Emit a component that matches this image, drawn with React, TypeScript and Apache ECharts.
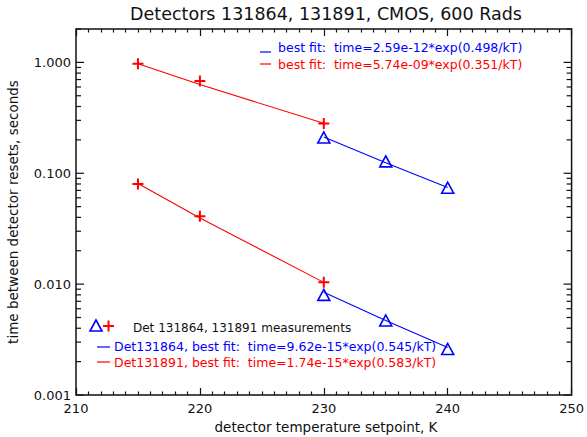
import React, { useEffect, useRef } from "react";
import * as echarts from "echarts";

// Detector temperature setpoints, K
const temps864 = [230, 235, 240];
const temps891 = [215, 220, 230];

// Measured time between detector resets, seconds (two clusters per detector)
const upperMeas864 = [0.21, 0.128, 0.074];
const upperMeas891 = [0.97, 0.68, 0.281];
const lowerMeas864 = [0.008, 0.0047, 0.0026];
const lowerMeas891 = [0.08, 0.041, 0.0104];

// Best-fit curves evaluated at the setpoints
const upperFit864 = [0.2118, 0.1241, 0.0743];
const upperFit891 = [0.97, 0.631, 0.282];
const lowerFit864 = [0.00843, 0.0047, 0.00268];
const lowerFit891 = [0.0807, 0.0395, 0.01037];

// Axis ranges and labels
const xMin = 210;
const xMax = 250;
const yMin = 0.001;
const yMax = 2;

const titleText = "Detectors 131864, 131891, CMOS, 600 Rads";
const xTitle = "detector temperature setpoint, K";
const yTitle = "time between detector resets, seconds";
const upperFitLabels = [
  "best fit:  time=2.59e-12*exp(0.498/kT)",
  "best fit:  time=5.74e-09*exp(0.351/kT)",
];
const measLabel = "Det 131864, 131891 measurements";
const lowerFitLabels = [
  "Det131864, best fit:  time=9.62e-15*exp(0.545/kT)",
  "Det131891, best fit:  time=1.74e-15*exp(0.583/kT)",
];

const BLUE = "#0000ff";
const RED = "#ff0000";
const INK = "#111111";
const FONT = "DejaVu Sans";

const zip = (xs: number[], ys: number[]) => xs.map((x, i) => [x, ys[i]]);

// log-axis tick positions: 1..9 x 10^k inside the range
const yTickMarks: number[][] = [];
for (let e = -3; e <= 0; e++) {
  for (let m = 1; m <= 9; m++) {
    const v = m * Math.pow(10, e);
    if (v >= yMin && v <= yMax) yTickMarks.push([xMin, v, m === 1 ? 1 : 0]);
  }
}

const plusSymbol = "path://M0,5L10,5M5,0L5,10";

export default function App() {
  const ref = useRef<HTMLDivElement>(null);

  useEffect(() => {
    if (!ref.current) return;
    const chart = echarts.init(ref.current, null, { renderer: "svg" });

    const left = 76;
    const right = 12;
    const top = 29;
    const bottom = 42;

    const xTickCommon = {
      min: xMin,
      max: xMax,
      interval: 10,
      axisLine: { show: false },
      splitLine: { show: false },
      axisTick: { show: true, inside: true, length: 7, lineStyle: { color: INK, width: 1.2 } },
      minorTick: { show: true, splitNumber: 10, length: 3.5, lineStyle: { color: INK, width: 1.2 } },
      minorSplitLine: { show: false },
    };

    const markerSeries = (data: number[][], color: string, tri: boolean) => ({
      type: "scatter",
      data,
      symbol: tri ? "triangle" : plusSymbol,
      symbolSize: tri ? [12, 11] : [11, 11],
      itemStyle: {
        color: "rgba(0,0,0,0)",
        borderColor: color,
        borderWidth: tri ? 1.6 : 2,
        opacity: 1,
      },
      silent: true,
      z: 4,
    });

    const fitSeries = (data: number[][], color: string) => ({
      type: "line",
      data,
      showSymbol: false,
      symbol: "none",
      lineStyle: { color, width: 1.1 },
      silent: true,
      z: 3,
    });

    const legendLine = (x1: number, x2: number, y: number, color: string) => ({
      type: "line",
      shape: { x1, y1: y, x2, y2: y },
      style: { stroke: color, lineWidth: 1.2 },
    });

    const legendText = (x: number, y: number, text: string, color: string, size = 12.5) => ({
      type: "text",
      x,
      y,
      style: {
        text,
        fill: color,
        font: `${size}px "${FONT}"`,
        textAlign: "left",
        textVerticalAlign: "middle",
      },
    });

    chart.setOption({
      animation: false,
      backgroundColor: "#ffffff",
      grid: {
        left,
        right,
        top,
        bottom,
        show: true,
        borderColor: INK,
        borderWidth: 1.5,
        backgroundColor: "transparent",
      },
      xAxis: [
        {
          type: "value",
          position: "bottom",
          ...xTickCommon,
          axisLabel: {
            show: true,
            color: INK,
            fontFamily: FONT,
            fontSize: 13,
            margin: 7,
          },
        },
        {
          type: "value",
          position: "top",
          ...xTickCommon,
          axisLabel: { show: false },
        },
      ],
      yAxis: {
        type: "log",
        logBase: 10,
        min: yMin,
        max: yMax,
        axisLine: { show: false },
        axisTick: { show: false },
        splitLine: { show: false },
        axisLabel: {
          show: true,
          color: INK,
          fontFamily: FONT,
          fontSize: 13,
          margin: 5,
          formatter: (v: number) => {
            const l = Math.log10(v);
            return Math.abs(l - Math.round(l)) < 1e-6 ? v.toFixed(3) : "";
          },
        },
      },
      series: [
        {
          type: "custom",
          data: yTickMarks,
          encode: { x: 0, y: 1 },
          clip: false,
          silent: true,
          z: 2,
          renderItem: (_params: any, api: any) => {
            const v = api.value(1);
            const major = api.value(2) === 1;
            const pl = api.coord([xMin, v]);
            const pr = api.coord([xMax, v]);
            const len = major ? 8 : 5;
            const style = { stroke: INK, lineWidth: 1.2 };
            return {
              type: "group",
              children: [
                { type: "line", shape: { x1: pl[0], y1: pl[1], x2: pl[0] + len, y2: pl[1] }, style },
                { type: "line", shape: { x1: pr[0], y1: pr[1], x2: pr[0] - len, y2: pr[1] }, style },
              ],
            };
          },
        },
        fitSeries(zip(temps891, upperFit891), RED),
        fitSeries(zip(temps864, upperFit864), BLUE),
        fitSeries(zip(temps891, lowerFit891), RED),
        fitSeries(zip(temps864, lowerFit864), BLUE),
        markerSeries(zip(temps891, upperMeas891), RED, false),
        markerSeries(zip(temps864, upperMeas864), BLUE, true),
        markerSeries(zip(temps891, lowerMeas891), RED, false),
        markerSeries(zip(temps864, lowerMeas864), BLUE, true),
      ],
      graphic: [
        {
          type: "text",
          x: 326,
          y: 14,
          style: {
            text: titleText,
            fill: INK,
            font: `17.5px "${FONT}"`,
            textAlign: "center",
            textVerticalAlign: "middle",
          },
        },
        {
          type: "text",
          x: 326,
          y: 427,
          style: {
            text: xTitle,
            fill: INK,
            font: `13.5px "${FONT}"`,
            textAlign: "center",
            textVerticalAlign: "middle",
          },
        },
        {
          type: "text",
          x: 13,
          y: 212,
          rotation: Math.PI / 2,
          style: {
            text: yTitle,
            fill: INK,
            font: `13.5px "${FONT}"`,
            textAlign: "center",
            textVerticalAlign: "middle",
          },
        },
        // upper fit legend
        legendLine(260, 271, 52, BLUE),
        legendText(278, 47, upperFitLabels[0], BLUE),
        legendLine(260, 271, 64, RED),
        legendText(278, 64, upperFitLabels[1], RED),
        // lower legend: measurement symbols
        {
          type: "polygon",
          shape: { points: [[96, 320], [90, 331], [102, 331]] },
          style: { fill: "none", stroke: BLUE, lineWidth: 1.6 },
        },
        {
          type: "line",
          shape: { x1: 103, y1: 326, x2: 114, y2: 326 },
          style: { stroke: RED, lineWidth: 2 },
        },
        {
          type: "line",
          shape: { x1: 108.5, y1: 320.5, x2: 108.5, y2: 331.5 },
          style: { stroke: RED, lineWidth: 2 },
        },
        legendText(133, 328, measLabel, INK, 12),
        legendLine(97, 110, 347, BLUE),
        legendText(114, 346, lowerFitLabels[0], BLUE),
        legendLine(97, 110, 362, RED),
        legendText(114, 362, lowerFitLabels[1], RED),
      ],
    });

    return () => chart.dispose();
  }, []);

  return (
    <div
      ref={ref}
      style={{ position: "absolute", left: 0, top: 0, width: 587, height: 437 }}
    />
  );
}
